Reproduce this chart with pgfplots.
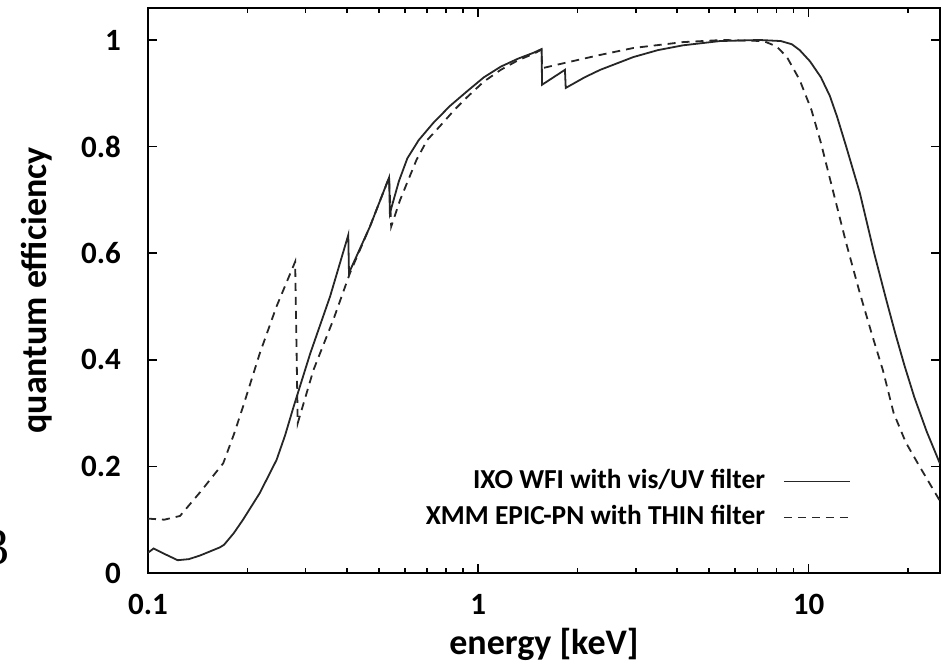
\documentclass[border=0pt]{standalone}
\usepackage{fontspec}
\setmainfont{Carlito}
\newfontfamily\seriffont{Liberation Serif}
\usepackage{pgfplots}
\usepackage{pgfplotstable}
\pgfplotsset{compat=1.18}

\pgfplotstableread{
E Q
0.100 0.038
0.104 0.046
0.112 0.036
0.123 0.024
0.133 0.026
0.144 0.033
0.165 0.048
0.170 0.053
0.182 0.075
0.194 0.100
0.218 0.150
0.245 0.212
0.260 0.258
0.276 0.312
0.310 0.412
0.356 0.519
0.404 0.634
0.406 0.563
0.470 0.650
0.537 0.742
0.540 0.675
0.575 0.735
0.610 0.778
0.660 0.812
0.730 0.844
0.820 0.876
0.926 0.904
1.040 0.930
1.170 0.950
1.320 0.965
1.470 0.976
1.555 0.983
1.560 0.916
1.830 0.944
1.840 0.910
2.100 0.930
2.340 0.944
2.950 0.968
3.500 0.981
4.170 0.990
5.400 0.998
7.100 1.000
8.240 0.998
8.900 0.992
9.400 0.981
10.10 0.960
10.90 0.930
11.60 0.895
12.20 0.856
13.00 0.800
14.30 0.713
15.80 0.600
17.20 0.512
18.30 0.450
19.50 0.390
20.90 0.330
22.80 0.265
25.00 0.205
}\ixo

\pgfplotstableread{
E Q
0.100 0.102
0.112 0.100
0.125 0.107
0.144 0.152
0.169 0.206
0.182 0.260
0.194 0.312
0.218 0.412
0.245 0.500
0.279 0.584
0.284 0.281
0.317 0.381
0.364 0.475
0.409 0.563
0.470 0.650
0.537 0.742
0.545 0.650
0.580 0.700
0.650 0.775
0.700 0.812
0.770 0.840
0.850 0.870
0.926 0.893
1.040 0.922
1.170 0.944
1.320 0.962
1.470 0.974
1.555 0.982
1.560 0.947
1.830 0.957
2.340 0.972
2.950 0.985
4.170 0.996
5.500 1.000
7.300 0.998
8.000 0.988
8.600 0.968
9.400 0.925
10.20 0.869
10.90 0.807
11.90 0.713
13.00 0.619
14.30 0.525
15.60 0.445
16.80 0.380
18.10 0.300
19.70 0.245
21.40 0.206
25.00 0.135
}\xmm

\begin{document}
\begin{tikzpicture}
\begin{axis}[
  xmode=log,
  width=396pt, height=282.5pt, scale only axis,
  xmin=0.1, xmax=25, ymin=0, ymax=1.06,
  xtick={0.1,1,10}, xticklabels={0.1,1,10},
  minor xtick={0.2,0.3,0.4,0.5,0.6,0.7,0.8,0.9,2,3,4,5,6,7,8,9,20},
  ytick={0,0.2,0.4,0.6,0.8,1}, yticklabels={0,0.2,0.4,0.6,0.8,1},
  tick align=inside,
  major tick length=4.5pt, minor tick length=2.5pt,
  axis line style={line width=1pt},
  every tick/.style={black, line width=0.8pt},
  tick label style={font=\bfseries\fontsize{15.5}{16}\selectfont},
  yticklabel style={xshift=-10pt},
  xticklabel style={yshift=-7pt},
  xlabel={energy [keV]}, ylabel={quantum efficiency},
  label style={font=\bfseries\fontsize{18}{20}\selectfont},
  xlabel style={at={(axis description cs:0.5,-0.127)}, anchor=center},
  ylabel style={at={(axis description cs:-0.141,0.5)}, anchor=center},
  legend style={at={(axis description cs:0.888,0.130)}, anchor=east, draw=none, fill=none,
    font=\bfseries\fontsize{13.7}{14}\selectfont, row sep=0pt, inner sep=0pt,
    nodes={inner sep=2pt, text height=10.5pt, text depth=3.5pt}},
  legend cell align=right, legend plot pos=right,
  legend image code/.code={\path (0pt,0pt); \draw[#1] (7pt,0pt) -- (40pt,0pt);},
]
\addplot[black!85, line width=0.9pt] table[x=E, y=Q] {\ixo};
\addlegendentry{IXO WFI with vis/UV filter}
\addplot[black!85, line width=0.9pt, dash pattern=on 4pt off 3pt] table[x=E, y=Q] {\xmm};
\addlegendentry{XMM EPIC-PN with THIN filter}
\coordinate (SW) at (rel axis cs:0,0);
\coordinate (NE) at (rel axis cs:1,1);
\end{axis}
\node[font=\seriffont\fontsize{26}{26}\selectfont, anchor=east, inner sep=0pt] at ([xshift=-69pt,yshift=12.75pt]SW) {3};
\pgfresetboundingbox
\path ([xshift=-74pt,yshift=-45.5pt]SW) rectangle ([xshift=0.5pt,yshift=4pt]NE);
\end{tikzpicture}
\end{document}
